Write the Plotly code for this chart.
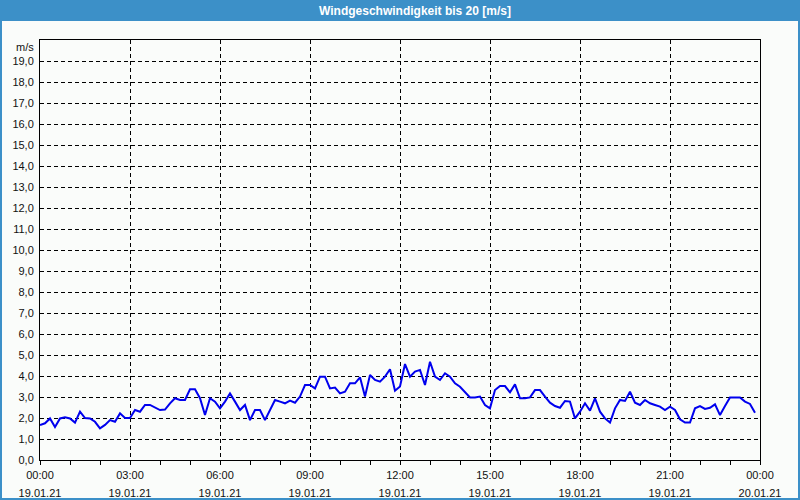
import pandas as pd
import plotly.graph_objects as go

# ---- data -------------------------------------------------------------
wind_speed = [
    1.67, 1.75, 1.98, 1.57, 1.98, 2.03, 1.98, 1.78, 2.30, 2.00,
    1.98, 1.82, 1.51, 1.67, 1.90, 1.82, 2.22, 2.00, 2.00, 2.38,
    2.30, 2.62, 2.62, 2.49, 2.38, 2.40, 2.70, 2.94, 2.86, 2.86,
    3.37, 3.37, 2.94, 2.14, 2.94, 2.78, 2.46, 2.78, 3.17, 2.78,
    2.38, 2.62, 1.90, 2.38, 2.38, 1.90, 2.38, 2.86, 2.78, 2.70,
    2.83, 2.73, 3.02, 3.57, 3.57, 3.41, 3.97, 3.97, 3.41, 3.45,
    3.17, 3.25, 3.65, 3.65, 3.94, 3.02, 4.05, 3.81, 3.73, 3.97,
    4.32, 3.30, 3.50, 4.57, 3.97, 4.21, 4.29, 3.57, 4.68, 3.97,
    3.81, 4.13, 3.97, 3.65, 3.49, 3.25, 2.98, 2.98, 3.02, 2.62,
    2.46, 3.33, 3.52, 3.52, 3.22, 3.60, 2.94, 2.94, 2.98, 3.33,
    3.33, 3.02, 2.73, 2.57, 2.49, 2.81, 2.78, 1.98, 2.30, 2.70,
    2.35, 2.94, 2.30, 1.98, 1.78, 2.46, 2.86, 2.81, 3.25, 2.73,
    2.62, 2.86, 2.70, 2.62, 2.54, 2.38, 2.54, 2.38, 1.94, 1.78,
    1.78, 2.46, 2.57, 2.43, 2.49, 2.65, 2.14, 2.57, 2.98, 2.98,
    2.98, 2.78, 2.67, 2.25,
]
times = pd.date_range("2021-01-19 00:00", periods=len(wind_speed), freq="10min")

x_tick_values = pd.date_range("2021-01-19 00:00", "2021-01-20 00:00", freq="3h")
x_tick_times = ["00:00", "03:00", "06:00", "09:00", "12:00", "15:00", "18:00", "21:00", "00:00"]
x_tick_dates = ["19.01.21"] * 8 + ["20.01.21"]
x_minor_values = pd.date_range("2021-01-19 00:00", "2021-01-20 00:00", freq="1h")

y_tick_values = list(range(20))
y_tick_labels = ["0,0", "1,0", "2,0", "3,0", "4,0", "5,0", "6,0", "7,0", "8,0", "9,0",
                 "10,0", "11,0", "12,0", "13,0", "14,0", "15,0", "16,0", "17,0", "18,0", "19,0"]

title_text = "Windgeschwindigkeit bis 20 [m/s]"
unit_text = "m/s"

# ---- figure -----------------------------------------------------------
W, H = 800, 500
ML, MR, MT, MB = 40, 40, 40, 40
PW, PH = W - ML - MR, H - MT - MB
BLUE = "#3C90C8"
FONT = "Liberation Sans, Arial, sans-serif"
DASH = "4px,3px"

fig = go.Figure()
fig.add_trace(go.Scatter(x=times, y=wind_speed, mode="lines",
                         line=dict(color="#0000EE", width=2), showlegend=False,
                         hoverinfo="skip"))
# invisible helper trace so the second (date) axis is drawn
fig.add_trace(go.Scatter(x=[times[0]], y=[0], xaxis="x2", mode="markers",
                         marker=dict(opacity=0), showlegend=False, hoverinfo="skip"))

xrange = ["2021-01-19 00:00", "2021-01-20 00:00"]

fig.update_layout(
    width=W, height=H,
    margin=dict(l=ML, r=MR, t=MT, b=MB, pad=0, autoexpand=False),
    paper_bgcolor="#FAFCFA",
    plot_bgcolor="#FAFCFA",
    font=dict(family=FONT, size=11, color="#111111"),
    xaxis=dict(
        range=xrange, type="date", automargin=False,
        tickmode="array", tickvals=x_tick_values, ticktext=x_tick_times,
        ticks="outside", ticklen=4, tickcolor="black", tickwidth=1,
        minor=dict(tickmode="array", tickvals=x_minor_values, ticks="outside",
                   ticklen=4, tickcolor="black", showgrid=False),
        showgrid=True, gridcolor="black", gridwidth=1, griddash=DASH,
        showline=True, linecolor="black", linewidth=1, mirror=True,
        zeroline=False, ticklabelstandoff=1,
        tickfont=dict(family=FONT, size=11, color="#111111"),
    ),
    xaxis2=dict(
        range=xrange, type="date", overlaying="x", side="bottom", anchor="y",
        automargin=False,
        tickmode="array", tickvals=x_tick_values, ticktext=x_tick_dates,
        ticks="", showgrid=False, showline=False, zeroline=False,
        ticklabelstandoff=25,
        tickfont=dict(family=FONT, size=11, color="#111111"),
    ),
    yaxis=dict(
        range=[0, 20], automargin=False,
        tickmode="array", tickvals=y_tick_values, ticktext=y_tick_labels,
        ticks="", showgrid=True, gridcolor="black", gridwidth=1, griddash=DASH,
        showline=True, linecolor="black", linewidth=1, mirror=True,
        zeroline=False, ticklabelstandoff=3,
        tickfont=dict(family=FONT, size=11, color="#111111"),
    ),
    shapes=[
        # title bar
        dict(type="rect", xref="paper", yref="paper", layer="above",
             x0=-ML / PW - 0.01, x1=1 + MR / PW + 0.01,
             y0=1 + (MT - 21) / PH, y1=1 + MT / PH + 0.01,
             fillcolor=BLUE, line=dict(width=0)),
        # outer frame
        dict(type="rect", xref="paper", yref="paper", layer="above",
             x0=-ML / PW, x1=1 + MR / PW, y0=-MB / PH, y1=1 + MT / PH,
             fillcolor="rgba(0,0,0,0)", line=dict(color=BLUE, width=4)),
    ],
    annotations=[
        dict(text=f"<b>{title_text}</b>", xref="paper", yref="paper",
             x=(415 - ML) / PW, y=1 + (MT - 10.5) / PH, xanchor="center", yanchor="middle",
             showarrow=False, font=dict(family=FONT, size=12, color="white")),
        dict(text=unit_text, xref="paper", yref="paper",
             x=-4 / PW, y=1 - 7 / PH, xanchor="right", yanchor="middle",
             showarrow=False, font=dict(family=FONT, size=11, color="#111111")),
    ],
)

fig.write_html("out.html")
